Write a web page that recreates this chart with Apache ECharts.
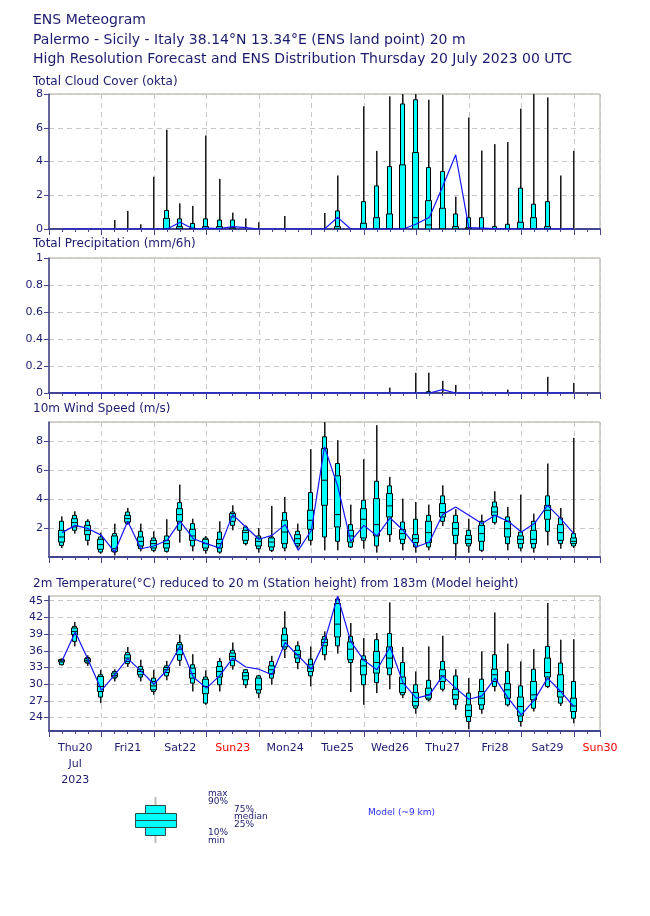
<!DOCTYPE html>
<html><head><meta charset="utf-8">
<script src="https://cdn.jsdelivr.net/npm/echarts@6/dist/echarts.min.js"></script>
<style>html,body{margin:0;padding:0;background:#fff}#c{width:650px;height:916px}</style>
</head><body><div id="c"></div>
<script>
// ---------- DATA ----------
const steps = [6,12,18,24,30,36,42,48,54,60,66,72,78,84,90,96,102,108,114,120,126,132,138,144,150,156,162,168,174,180,186,192,198,204,210,216,222,228,234,240];
const dayLabels = ['Thu20','Fri21','Sat22','Sun23','Mon24','Tue25','Wed26','Thu27','Fri28','Sat29','Sun30'];
const monthLabel = 'Jul';
const yearLabel = '2023';
const tempTicks = [24,27,30,33,36,39,42,45];

// Total cloud cover (okta)
const cloudMin = [0,0,0,0,0,0,0,0,0,0, 0,0,0,0,0,0,0,0,0,0, 0,0,0,0,0,0,0,0,0,0, 0,0,0,0,0,0,0,0,0,0];
const cloudP10 = [0,0,0,0,0,0,0,0,0,0, 0,0,0,0,0,0,0,0,0,0, 0,0,0,0,0,0,0,0,0,0, 0,0,0,0,0,0,0,0,0,0];
const cloudQ25 = [0,0,0,0,0,0,0,0,0,0, 0,0,0,0,0,0,0,0,0,0, 0,0,0,0,0,0,0,0,0,0, 0,0,0,0,0,0,0,0,0,0];
const cloudMed = [0,0,0,0,0,0,0,0,0,0, 0,0,0,0,0,0,0,0,0,0, 0,0,0,0,0,0,0,0.67,0.24,0, 0,0,0,0,0,0,0,0,0,0];
const cloudQ75 = [0,0,0,0,0,0,0,0,0.63,0.14, 0.05,0.14,0.14,0.08,0,0,0,0,0,0, 0,0.14,0,0.34,0.67,0.89,3.8,4.53,1.68,1.23, 0.14,0.08,0,0,0,0.4,0.67,0.14,0,0];
const cloudP90 = [0,0,0,0,0,0,0,0,1.1,0.6, 0.33,0.6,0.53,0.53,0,0,0,0,0,0, 0,1.07,0,1.62,2.55,3.7,7.41,7.66,3.64,3.41, 0.89,0.67,0.67,0.14,0.28,2.42,1.47,1.62,0,0];
const cloudMax = [0,0,0,0,0.53,1.07,0.28,3.1,5.88,1.52, 1.37,5.54,2.97,0.97,0.63,0.4,0,0.77,0,0, 0.95,3.17,0,7.27,4.63,7.86,8,8,7.66,7.96, 1.92,6.61,4.65,5.03,5.15,7.13,8,7.8,3.17,4.63];
const cloudHres = [0,0,0,0,0,0,0,0,0,0.4, 0,0.05,0.03,0.14,0.08,0,0,0,0,0, 0,0.69,0,0,0,0,0,0.3,0.7,2.5, 4.4,0.08,0.05,0.02,0,0,0,0,0,0];

// Total precipitation (mm/6h)
const precMin = [0,0,0,0,0,0,0,0,0,0, 0,0,0,0,0,0,0,0,0,0, 0,0,0,0,0,0,0,0,0,0, 0,0,0,0,0,0,0,0,0,0];
const precP10 = [0,0,0,0,0,0,0,0,0,0, 0,0,0,0,0,0,0,0,0,0, 0,0,0,0,0,0,0,0,0,0, 0,0,0,0,0,0,0,0,0,0];
const precQ25 = [0,0,0,0,0,0,0,0,0,0, 0,0,0,0,0,0,0,0,0,0, 0,0,0,0,0,0,0,0,0,0, 0,0,0,0,0,0,0,0,0,0];
const precMed = [0,0,0,0,0,0,0,0,0,0, 0,0,0,0,0,0,0,0,0,0, 0,0,0,0,0,0,0,0,0,0, 0,0,0,0,0,0,0,0,0,0];
const precQ75 = [0,0,0,0,0,0,0,0,0,0, 0,0,0,0,0,0,0,0,0,0, 0,0,0,0,0,0,0,0,0,0, 0,0,0,0,0,0,0,0,0,0];
const precP90 = [0,0,0,0,0,0,0,0,0,0, 0,0,0,0,0,0,0,0,0,0, 0,0,0,0,0,0,0,0,0.01,0, 0,0,0,0,0,0,0,0,0,0];
const precMax = [0,0,0,0,0,0,0,0,0,0, 0,0,0,0,0,0,0,0,0,0, 0,0,0,0,0,0.04,0,0.15,0.15,0.09, 0.06,0,0.01,0,0.025,0,0,0.12,0,0.075];
const precHres = [0,0,0,0,0,0,0,0,0,0, 0,0,0,0,0,0,0,0,0,0, 0,0,0,0,0,0,0,0,0,0.025, 0,0,0,0,0,0,0,0,0,0];

// 10m wind speed (m/s)
const windMin = [0.62,1.61,0.80,0.23,0.11,2.23,0.39,0.34,0.30,0.99, 0.39,0.23,0.23,1.84,0.80,0.30,0.34,0.39,0.57,0.80, 0.46,0.46,0.62,0.57,0.30,1.03,0.46,0.30,0.46,2.14, 0.05,0.30,0.34,2.23,0.46,0.39,0.30,0.80,0.57,0.62];
const windP10 = [0.80,1.84,1.15,0.34,0.34,2.30,0.57,0.46,0.39,1.84, 0.76,0.46,0.34,2.18,0.92,0.57,0.46,0.62,0.76,1.15, 1.38,1.08,0.69,1.15,0.76,1.54,0.92,0.69,0.69,2.46, 0.92,0.76,0.46,2.37,0.92,0.62,0.62,1.77,0.92,0.76];
const windQ25 = [1.03,2.07,1.54,0.53,0.39,2.41,0.76,0.62,0.62,2.46, 1.15,0.62,0.62,2.46,1.15,0.76,0.69,0.92,0.92,1.91, 3.56,2.07,1.03,1.31,1.45,2.76,1.22,0.99,0.99,2.76, 1.49,0.92,1.08,2.87,1.38,0.92,0.92,2.60,1.15,0.92];
const windMed = [1.38,2.37,1.84,0.85,0.57,2.64,1.08,0.92,0.92,2.92, 1.45,0.92,0.92,2.76,1.68,1.08,1.03,1.72,1.26,2.53, 5.29,2.92,1.45,2.60,2.23,3.52,1.61,1.26,1.68,3.06, 1.95,1.22,1.61,3.10,1.95,1.22,1.22,3.22,1.68,1.08];
const windQ75 = [1.84,2.64,2.18,1.22,1.45,2.87,1.38,1.15,1.15,3.33, 1.91,1.22,1.22,2.99,1.84,1.31,1.31,2.53,1.54,3.22, 7.47,5.59,1.84,3.33,4.02,4.37,1.89,1.54,2.46,3.68, 2.37,1.49,2.18,3.45,2.46,1.45,1.84,3.56,2.23,1.31];
const windP90 = [2.46,2.87,2.46,1.38,1.61,3.10,1.77,1.31,1.45,3.75, 2.30,1.31,1.72,3.10,2.07,1.45,1.38,3.06,1.77,4.44, 8.28,6.44,2.23,3.91,5.22,4.90,2.41,2.60,2.87,4.21, 2.87,1.84,2.46,3.79,2.76,1.72,2.46,4.21,2.69,1.61];
const windMax = [2.80,3.15,2.60,1.68,2.30,3.38,2.30,1.77,2.60,4.99, 2.64,1.45,2.46,3.56,2.18,2.00,3.52,4.14,2.30,7.43, 9.3,8.05,3.61,6.74,9.08,5.52,4.02,3.79,3.61,4.94, 3.29,2.64,2.92,4.53,3.45,4.30,2.99,6.44,3.38,8.21];
const windHres = [1.68,2.18,1.95,1.49,0.34,2.46,0.57,0.76,1.15,2.46, 1.26,0.92,0.62,2.92,2.07,1.22,1.49,2.23,0.46,1.84, 7.59,4.9,1.08,2.18,1.45,2.69,1.84,0.69,1.03,2.92, 3.45,2.87,2.30,2.87,2.46,1.72,2.30,3.56,2.64,1.61];

// 2m temperature (°C)
const tempMin = [33.4,36.8,33.3,26.6,30.5,33.1,30.5,28.1,30.7,33.3, 28.7,26.3,28.7,32.6,29.3,27.5,29.9,34.7,32.7,29.6, 34.3,35.5,28.6,26.3,28.4,29.1,27.5,24.7,26.9,28.7, 25.4,21.9,24.7,28.7,26.0,22.4,25.1,29.3,26.1,23.0];
const tempP10 = [33.5,37.7,33.8,27.7,31.1,33.7,31.3,28.7,31.5,34.3, 30.2,26.6,29.9,33.3,29.9,28.4,31.1,36.3,33.9,31.5, 35.3,36.9,33.9,29.9,30.3,31.7,28.1,25.7,27.2,29.1, 26.3,23.3,25.5,29.6,26.3,23.3,25.7,29.6,26.6,23.9];
const tempQ25 = [34.0,38.9,34.0,28.7,31.3,34.1,31.7,29.0,32.1,35.3, 31.1,28.3,31.3,34.3,30.8,29.0,31.9,36.7,34.7,32.3, 36.9,38.5,34.4,31.7,32.0,32.9,28.5,26.1,27.5,30.5, 27.3,24.2,26.3,30.5,27.5,24.3,27.2,31.3,27.7,25.1];
const tempMed = [34.2,39.5,34.3,29.6,31.6,34.7,32.3,29.7,32.6,36.3, 31.9,29.6,32.3,35.0,31.5,29.9,32.6,37.9,35.3,32.9, 37.5,40.8,36.3,33.3,33.9,34.7,30.1,26.9,28.1,31.5, 28.1,25.3,27.5,31.7,29.0,26.0,28.1,32.1,28.7,26.1];
const tempQ75 = [34.4,40.1,34.6,31.4,32.0,35.3,32.7,30.5,33.0,37.1, 32.9,30.9,33.2,35.6,32.1,31.1,33.3,38.9,36.1,33.5, 38.1,44.5,37.6,34.4,35.9,36.7,31.3,28.5,29.3,32.6, 29.1,26.3,28.7,32.7,30.1,27.7,30.5,34.7,31.7,27.5];
const tempP90 = [34.5,40.4,34.8,31.7,32.3,35.7,33.2,31.1,33.3,37.5, 33.5,31.3,34.1,36.1,32.6,31.5,34.1,40.1,36.9,34.5, 38.6,45.3,38.6,35.1,38.0,39.1,33.9,29.9,30.7,34.1, 31.5,28.4,30.9,35.3,32.3,29.7,32.7,36.8,33.8,30.5];
const tempMax = [34.6,41.2,35.2,32.6,32.7,36.7,34.4,32.6,34.2,38.9, 35.4,32.5,34.7,37.5,32.7,31.7,35.1,43.1,37.7,36.8, 39.5,45.8,41.0,38.3,39.2,44.7,36.7,32.3,36.8,38.7, 32.7,31.1,35.9,42.9,37.3,34.1,36.3,44.6,38.0,38.1];
const tempHres = [34.2,39.4,34.3,28.9,31.7,34.6,32.4,30.0,32.6,36.9, 31.3,29.3,31.5,34.7,33.1,32.7,31.7,37.5,35.1,32.7, 37.7,45.8,37.7,34.3,32.6,36.7,30.2,27.5,28.1,31.5, 29.3,27.3,27.9,31.1,27.5,24.5,27.2,31.1,28.7,26.0];

// ---------- CHART ----------
const font = 'DejaVu Sans';
const textColor = '#1b1b6e';
const axisColor = '#45458f';
const gridColor = '#c8c8c8';

const panels = [
  {top:94,  title:'Total Cloud Cover (okta)', titleTop:76, y:{min:0,max:8,interval:2}, showMax:true,
   s:[cloudMin,cloudP10,cloudQ25,cloudMed,cloudQ75,cloudP90,cloudMax], hres:cloudHres},
  {top:258, title:'Total Precipitation (mm/6h)', titleTop:238, y:{min:0,max:1,interval:0.2}, showMax:true,
   s:[precMin,precP10,precQ25,precMed,precQ75,precP90,precMax], hres:precHres},
  {top:422, title:'10m Wind Speed (m/s)', titleTop:403, y:{min:0,max:9.3,interval:2,hideMin:true}, showMax:false,
   s:[windMin,windP10,windQ25,windMed,windQ75,windP90,windMax], hres:windHres},
  {top:596, title:'2m Temperature(°C) reduced to 20 m (Station height) from 183m (Model height)', titleTop:578,
   y:{min:21.6,max:45.85,custom:tempTicks}, showMax:true,
   s:[tempMin,tempP10,tempQ25,tempMed,tempQ75,tempP90,tempMax], hres:tempHres}
];

const grids=[], xAxes=[], yAxes=[], series=[];
panels.forEach((p,i)=>{
  grids[i] = {left:49, top:p.top, width:551, height:135, show:true, borderColor:'#aaa296', borderWidth:1, backgroundColor:'transparent', outerBoundsMode:'none'};
  grids[4+i] = {left:49, top:p.top, width:551, height:135, show:false, outerBoundsMode:'none'};
  xAxes[i] = {gridIndex:i, type:'value', min:0, max:252, interval:24,
    axisLine:{show:true,onZero:false,lineStyle:{color:axisColor,width:2}},
    axisTick:{show:true,length:6,lineStyle:{color:axisColor,width:1}},
    axisLabel:{show:false},
    splitLine:{show:true,lineStyle:{color:gridColor,type:[5,4],width:1}}};
  const lab = i===3 ? {show:true, color:textColor, fontFamily:font, fontSize:11, margin:9, lineHeight:16,
      showMinLabel:true, showMaxLabel:true,
      rich:{r:{color:'#ff0000', fontFamily:font, fontSize:11, lineHeight:16}},
      formatter:function(v){
        const h=Math.round(v);
        if (h%24!==12) return '';
        const k=(h-12)/24; const d=dayLabels[k]; if(!d) return '';
        let s = d.indexOf('Sun')===0 ? '{r|'+d+'}' : d;
        if (k===0) s += '\n'+monthLabel+'\n'+yearLabel;
        return s;
      }} : {show:false};
  xAxes[4+i] = {gridIndex:4+i, type:'value', min:0, max:252, interval:6,
    axisLine:{show:false}, axisTick:{show:true,length:3,lineStyle:{color:axisColor,width:1}},
    axisLabel:lab, splitLine:{show:false}};
  const ya = {gridIndex:i, type:'value', min:p.y.min, max:p.y.max,
    axisLine:{show:true,onZero:false,lineStyle:{color:axisColor,width:1.5}},
    axisTick:{show:true,length:5,lineStyle:{color:axisColor}},
    axisLabel:{color:textColor,fontFamily:font,fontSize:11,margin:6},
    splitLine:{show:true,lineStyle:{color:gridColor,type:[5,4],width:1}}};
  if (p.y.interval) ya.interval = p.y.interval;
  if (p.y.custom) { ya.axisTick.customValues = p.y.custom; ya.axisLabel.customValues = p.y.custom; }
  if (p.y.hideMin) { ya.axisLabel.showMinLabel = false; }
  ya.axisLabel.showMaxLabel = p.showMax;
  yAxes[i] = ya;
  yAxes[4+i] = {gridIndex:4+i, type:'value', min:0, max:1, show:false};

  const data = steps.map((h,j)=>[h, p.s[0][j], p.s[1][j], p.s[2][j], p.s[3][j], p.s[4][j], p.s[5][j], p.s[6][j]]);
  series.push({type:'custom', xAxisIndex:i, yAxisIndex:i, clip:true, z:2, data:data,
    encode:{x:0, y:[1,7]},
    renderItem:function(params, api){
      const xr = Math.round(api.coord([api.value(0),0])[0]);
      const Y = k => api.coord([api.value(0), api.value(k)])[1];
      const yMin=Y(1), yP10=Y(2), yQ25=Y(3), yMed=Y(4), yQ75=Y(5), yP90=Y(6), yMax=Y(7);
      const ch=[];
      if (yMin-yMax>0.3){
        ch.push({type:'line',shape:{x1:xr+0.5,y1:yMin,x2:xr+0.5,y2:yMax},style:{stroke:'#808080',lineWidth:1}});
        ch.push({type:'line',shape:{x1:xr-0.5,y1:yMin,x2:xr-0.5,y2:yMax},style:{stroke:'#1a1a1a',lineWidth:1}});
      }
      if (yP10-yP90>0.3) ch.push({type:'rect',shape:{x:xr-2.5,y:yP90,width:4,height:yP10-yP90},style:{fill:'#00ffff',stroke:'#000',lineWidth:1}});
      if (yQ25-yQ75>0.3){
        ch.push({type:'rect',shape:{x:xr-3.5,y:yQ75,width:6,height:yQ25-yQ75},style:{fill:'#00ffff',stroke:'#000',lineWidth:1}});
        ch.push({type:'line',shape:{x1:xr-3.5,y1:yMed,x2:xr+2.5,y2:yMed},style:{stroke:'#000',lineWidth:1}});
      }
      return {type:'group',children:ch};
    }});
  series.push({type:'line', xAxisIndex:i, yAxisIndex:i, z:3, showSymbol:false, symbol:'none',
    data: steps.map((h,j)=>[h,p.hres[j]]),
    lineStyle:{color:'#1414ff',width:1.2}, clip:true});
});

const titles = [
  {text:'ENS Meteogram', left:33, top:13, fs:14},
  {text:'Palermo - Sicily - Italy 38.14°N 13.34°E (ENS land point) 20 m', left:33, top:33, fs:14},
  {text:'High Resolution Forecast and ENS Distribution Thursday 20 July 2023 00 UTC', left:33, top:52, fs:14}
].concat(panels.map(p=>({text:p.title, left:33, top:p.titleTop, fs:12}))).map(t=>({
  text:t.text, left:t.left, top:t.top, padding:0,
  textStyle:{fontFamily:font, fontSize:t.fs, fontWeight:'normal', color:textColor}}));

const lt = {fontFamily:font, fontSize:9, fill:textColor, verticalAlign:'middle'};
const graphic = [
  {type:'line', shape:{x1:155.5,y1:797,x2:155.5,y2:843}, style:{stroke:'#bdbdbd',lineWidth:2}},
  {type:'rect', shape:{x:145.5,y:805.5,width:20,height:30}, style:{fill:'#00ffff',stroke:'#2a4a4a',lineWidth:1}},
  {type:'rect', shape:{x:135.5,y:813.5,width:41,height:14}, style:{fill:'#00ffff',stroke:'#2a4a4a',lineWidth:1}},
  {type:'line', shape:{x1:135.5,y1:820.5,x2:176.5,y2:820.5}, style:{stroke:'#2a4a4a',lineWidth:1}},
  {type:'text', x:208, y:794, style:Object.assign({text:'max'},lt)},
  {type:'text', x:208, y:802, style:Object.assign({text:'90%'},lt)},
  {type:'text', x:234, y:809.5, style:Object.assign({text:'75%'},lt)},
  {type:'text', x:234, y:817, style:Object.assign({text:'median'},lt)},
  {type:'text', x:234, y:824.5, style:Object.assign({text:'25%'},lt)},
  {type:'text', x:208, y:832.5, style:Object.assign({text:'10%'},lt)},
  {type:'text', x:208, y:840.5, style:Object.assign({text:'min'},lt)},
  {type:'text', x:368, y:813, style:{text:'Model (~9 km)', fontFamily:font, fontSize:9, fill:'#2a2aff', verticalAlign:'middle'}}
];

const chart = echarts.init(document.getElementById('c'), null, {renderer:'canvas'});
chart.setOption({
  animation:false, backgroundColor:'#ffffff',
  title:titles, grid:grids, xAxis:xAxes, yAxis:yAxes, series:series, graphic:graphic
});
</script></body></html>
